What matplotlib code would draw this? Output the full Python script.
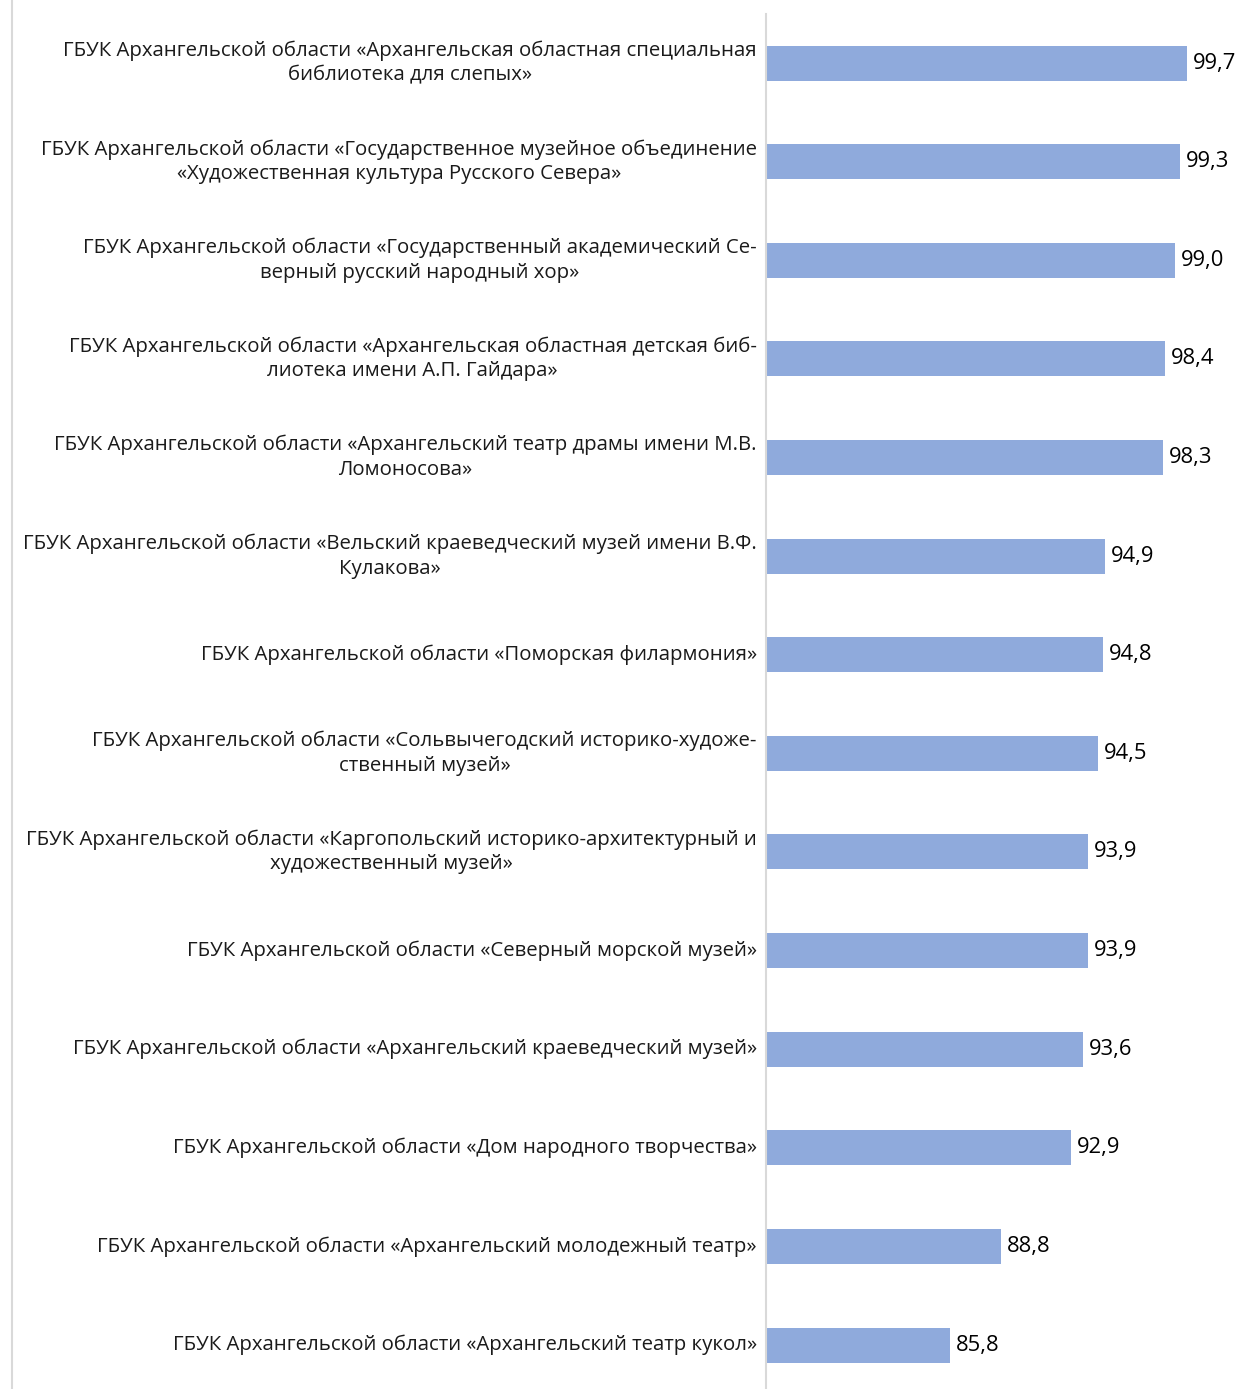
import matplotlib
matplotlib.use("Agg")
import matplotlib.pyplot as plt
from matplotlib.lines import Line2D

plt.rcParams['font.family'] = ['Open Sans', 'DejaVu Sans']

labels = [
    "ГБУК Архангельской области «Архангельская областная специальная\nбиблиотека для слепых»",
    "ГБУК Архангельской области «Государственное музейное объединение\n«Художественная культура Русского Севера»",
    "ГБУК Архангельской области «Государственный академический Се-\nверный русский народный хор»",
    "ГБУК Архангельской области «Архангельская областная детская биб-\nлиотека имени А.П. Гайдара»",
    "ГБУК Архангельской области «Архангельский театр драмы имени М.В.\nЛомоносова»",
    "ГБУК Архангельской области «Вельский краеведческий музей имени В.Ф.\nКулакова»",
    "ГБУК Архангельской области «Поморская филармония»",
    "ГБУК Архангельской области «Сольвычегодский историко-художе-\nственный музей»",
    "ГБУК Архангельской области «Каргопольский историко-архитектурный и\nхудожественный музей»",
    "ГБУК Архангельской области «Северный морской музей»",
    "ГБУК Архангельской области «Архангельский краеведческий музей»",
    "ГБУК Архангельской области «Дом народного творчества»",
    "ГБУК Архангельской области «Архангельский молодежный театр»",
    "ГБУК Архангельской области «Архангельский театр кукол»",
]
values = [99.7, 99.3, 99.0, 98.4, 98.3, 94.9, 94.8, 94.5, 93.9, 93.9, 93.6, 92.9, 88.8, 85.8]

W, H = 1238, 1389
fig = plt.figure(figsize=(W / 100, H / 100), dpi=100)
ax = fig.add_axes([766 / W, 0, (1192 - 766) / W, (H - 14) / H])

pos = list(range(len(values)))
ax.barh(pos, [v - 75 for v in values], left=75, height=0.355, color='#8FAADC')
ax.set_xlim(75, 100)
ax.set_ylim(13.446, -0.497)

for p, v, lab in zip(pos, values, labels):
    ax.text(v + 0.35, p, f"{v:.1f}".replace('.', ','), va='center', ha='left',
            fontsize=15.8, color='#000000', clip_on=False)
    ax.text(74.45, p, lab, va='center', ha='right', multialignment='center',
            fontsize=14.7, color='#1a1a1a', linespacing=1.3, clip_on=False)

for s in ['top', 'right', 'bottom']:
    ax.spines[s].set_visible(False)
ax.spines['left'].set_color('#d9d9d9')
ax.spines['left'].set_linewidth(1.5)
ax.set_xticks([])
ax.set_yticks([])

fig.add_artist(Line2D([12 / W, 12 / W], [0, 1], color='#d9d9d9', lw=1.5))

fig.savefig("out.png", dpi=100)
